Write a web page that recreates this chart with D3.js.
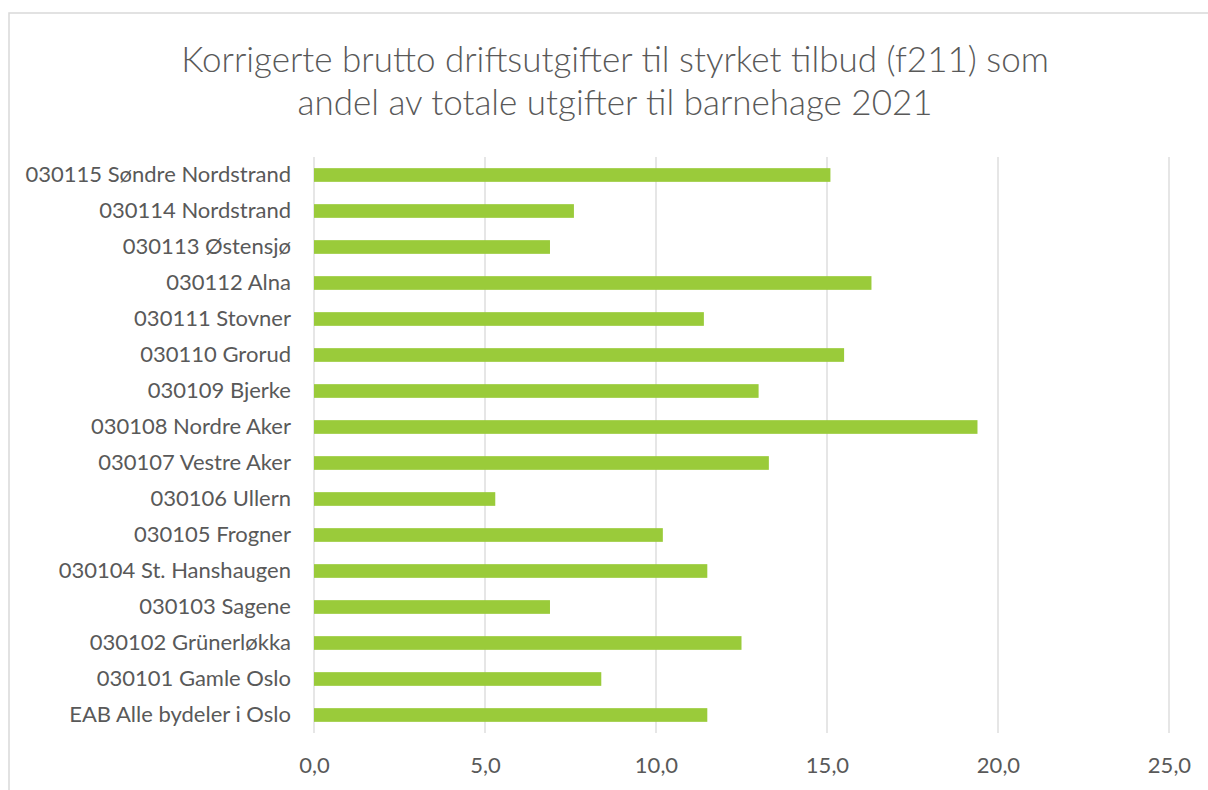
<!DOCTYPE html>
<meta charset="utf-8">
<style>
body { margin: 0; background: #fff; }
text { font-family: Lato, "Open Sans", sans-serif; fill: #595959; }
.title { font-size: 35px; font-weight: 300; }
.axis text { font-size: 22px; }
</style>
<svg width="1208" height="790"></svg>
<script src="https://d3js.org/d3.v7.min.js"></script>
<script>

var categories = [
  "030115 Søndre Nordstrand",
  "030114 Nordstrand",
  "030113 Østensjø",
  "030112 Alna",
  "030111 Stovner",
  "030110 Grorud",
  "030109 Bjerke",
  "030108 Nordre Aker",
  "030107 Vestre Aker",
  "030106 Ullern",
  "030105 Frogner",
  "030104 St. Hanshaugen",
  "030103 Sagene",
  "030102 Grünerløkka",
  "030101 Gamle Oslo",
  "EAB Alle bydeler i Oslo"
];

var values = [15.1, 7.6, 6.9, 16.3, 11.4, 15.5, 13.0, 19.4, 13.3, 5.3, 10.2, 11.5, 6.9, 12.5, 8.4, 11.5];

var xTicks = [0, 5, 10, 15, 20, 25];

var titleLines = [
  "Korrigerte brutto driftsutgifter til styrket tilbud (f211) som",
  "andel av totale utgifter til barnehage 2021"
];

var svg = d3.select("svg"),
    width = +svg.attr("width"),
    height = +svg.attr("height");

var margin = {top: 157, right: 39, bottom: 57, left: 314};

// chart frame
svg.append("rect")
    .attr("x", 9)
    .attr("y", 13)
    .attr("width", width)
    .attr("height", height)
    .attr("fill", "none")
    .attr("stroke", "#d9d9d9")
    .attr("stroke-width", 1.5);

svg.selectAll(".title")
  .data(titleLines)
  .enter().append("text")
    .attr("class", "title")
    .attr("x", 615)
    .attr("y", function(d, i) { return 72 + i * 43; })
    .attr("text-anchor", "middle")
    .text(function(d) { return d; });

var x = d3.scaleLinear()
    .domain([0, 25])
    .range([margin.left, width - margin.right]);

var y = d3.scaleBand()
    .domain(categories)
    .range([margin.top, height - margin.bottom])
    .paddingInner(0.62)
    .paddingOuter(0.31);

// gridlines
svg.append("g")
  .selectAll("line")
  .data(xTicks)
  .enter().append("line")
    .attr("x1", function(d) { return x(d); })
    .attr("x2", function(d) { return x(d); })
    .attr("y1", margin.top)
    .attr("y2", height - margin.bottom)
    .attr("stroke", "#d9d9d9")
    .attr("stroke-width", 1.3);

// bars
svg.append("g")
  .selectAll("rect")
  .data(values)
  .enter().append("rect")
    .attr("x", x(0))
    .attr("y", function(d, i) { return y(categories[i]); })
    .attr("width", function(d) { return x(d) - x(0); })
    .attr("height", y.bandwidth())
    .attr("fill", "#9acb3a");

// x axis labels
var xAxis = svg.append("g")
    .attr("class", "axis")
    .attr("transform", "translate(0," + (height - margin.bottom) + ")")
    .call(d3.axisBottom(x)
      .tickValues(xTicks)
      .tickSize(0)
      .tickPadding(24)
      .tickFormat(function(d) { return d3.format(".1f")(d).replace(".", ","); }));
xAxis.select(".domain").remove();

// y axis labels
var yAxis = svg.append("g")
    .attr("class", "axis")
    .attr("transform", "translate(" + margin.left + ",0)")
    .call(d3.axisLeft(y).tickSize(0).tickPadding(23));
yAxis.select(".domain").remove();

</script>
